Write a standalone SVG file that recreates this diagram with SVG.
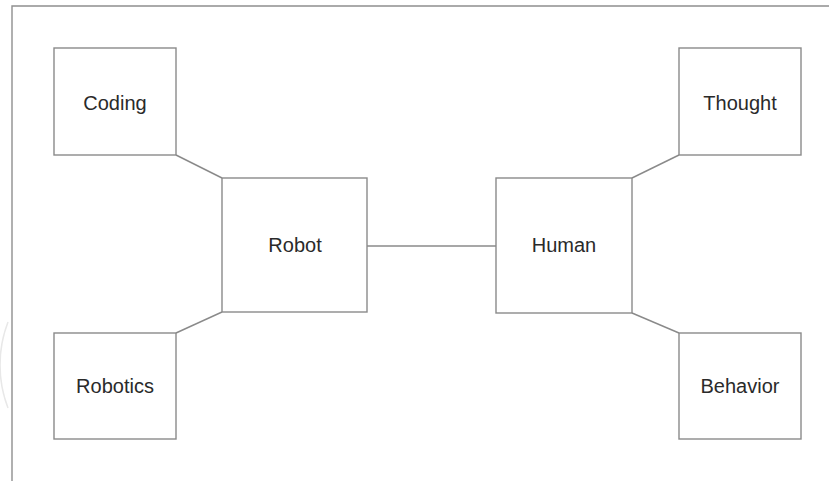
<svg xmlns="http://www.w3.org/2000/svg" width="829" height="481" viewBox="0 0 829 481">
<style>
.box{fill:#fff;stroke:#8a8a8a;stroke-width:1.4}
.edge{stroke:#8a8a8a;stroke-width:1.4;fill:none}
.frame{stroke:#8f8f8f;stroke-width:1.4;fill:none}
.lbl{font-family:"Liberation Sans",Arial,sans-serif;font-size:20px;fill:#2a2a2a;text-anchor:middle}
</style>
<rect width="829" height="481" fill="#fff"/>
<path class="frame" d="M12,481 V6 H829"/>
<path d="M8,322 A120,120 0 0 0 8,408" stroke="#e8e8e8" stroke-width="1.5" fill="none"/>
<g id="connectors">
<line class="edge" x1="176" y1="155" x2="222" y2="178"/>
<line class="edge" x1="176" y1="333" x2="222" y2="312"/>
<line class="edge" x1="679" y1="155" x2="632" y2="178"/>
<line class="edge" x1="679" y1="333" x2="632" y2="313"/>
<line class="edge" x1="367" y1="246" x2="496" y2="246"/>
</g>
<g id="coding"><rect class="box" x="54" y="48" width="122" height="107"/><text class="lbl" x="115" y="110">Coding</text></g>
<g id="thought"><rect class="box" x="679" y="48" width="122" height="107"/><text class="lbl" x="740" y="110">Thought</text></g>
<g id="robotics"><rect class="box" x="54" y="333" width="122" height="106"/><text class="lbl" x="115" y="393">Robotics</text></g>
<g id="behavior"><rect class="box" x="679" y="333" width="122" height="106"/><text class="lbl" x="740" y="393">Behavior</text></g>
<g id="robot"><rect class="box" x="222" y="178" width="145" height="134"/><text class="lbl" x="295" y="252">Robot</text></g>
<g id="human"><rect class="box" x="496" y="178" width="136" height="135"/><text class="lbl" x="564" y="252">Human</text></g>
</svg>
